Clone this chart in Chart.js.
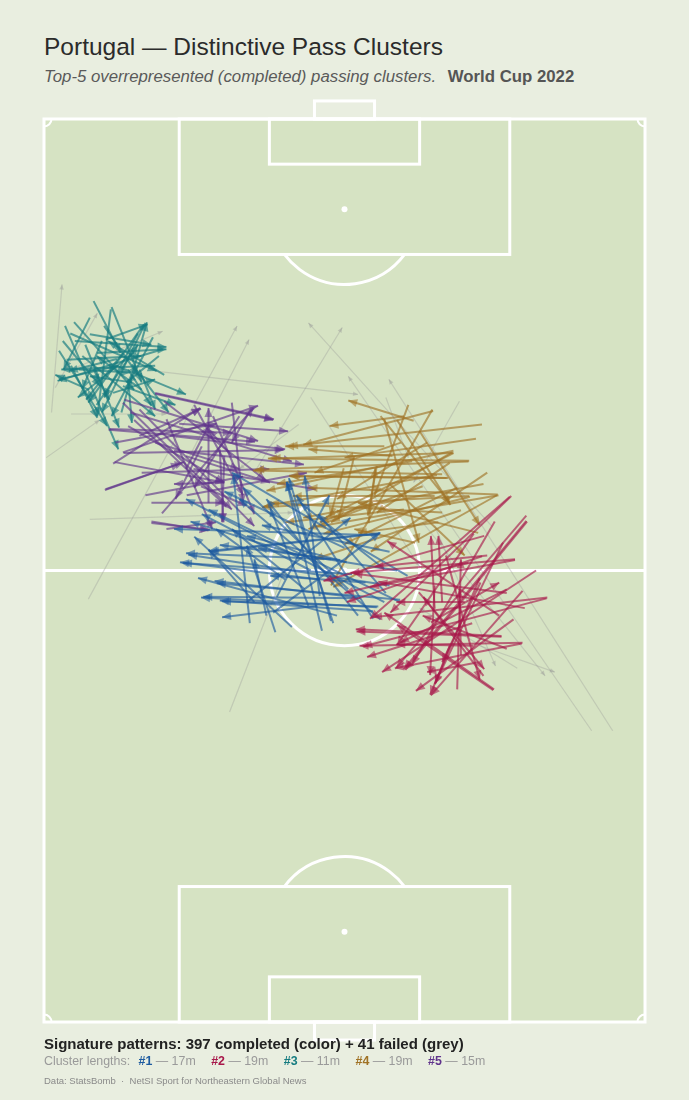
<!DOCTYPE html>
<html>
<head>
<meta charset="UTF-8">
<title>Portugal — Distinctive Pass Clusters</title>
<script src="https://cdn.jsdelivr.net/npm/chart.js@4.4.1/dist/chart.umd.min.js"></script>
<style>
    body { margin: 0; background: #e9eee0; font-family: "Liberation Sans", Arial, sans-serif; }
    #wrap { position: relative; width: 689px; height: 1100px; overflow: hidden; }
    #title { position: absolute; left: 44px; top: 33px; font-size: 24.5px; line-height: 28px; color: #2b2b2b; }
    #sub { position: absolute; left: 44px; top: 67px; font-size: 16.8px; line-height: 20px; color: #5a5a5a; white-space: nowrap; }
    #sub i { margin-right: 7px; }
    #sub b { color: #555; }
    #box { position: absolute; left: 0; top: 90px; width: 689px; height: 960px; }
    #foot1 { position: absolute; left: 44px; top: 1035px; font-size: 15px; line-height: 18px; font-weight: bold; color: #222; white-space: nowrap; }
    #foot2 { position: absolute; left: 44px; top: 1053px; font-size: 12.4px; line-height: 16px; color: #9a9a9a; white-space: nowrap; }
    #foot2 b { margin-left: 5px; }
    #foot2 b.g { margin-left: 12px; }
    #foot3 { position: absolute; left: 44px; top: 1075px; font-size: 9.5px; line-height: 12px; color: #8a8a8a; white-space: nowrap; }
</style>
</head>
<body>
<div id="wrap">
    <div id="title">Portugal — Distinctive Pass Clusters</div>
    <div id="sub"><i>Top-5 overrepresented (completed) passing clusters.</i> <b>World Cup 2022</b></div>
    <div id="box"><canvas id="pitch"></canvas></div>
    <div id="foot1">Signature patterns: 397 completed (color) + 41 failed (grey)</div>
    <div id="foot2">Cluster lengths: <b style="color:#1d5ba0">#1</b> — 17m <b class="g" style="color:#a8174a">#2</b> — 19m <b class="g" style="color:#167c80">#3</b> — 11m <b class="g" style="color:#a07225">#4</b> — 19m <b class="g" style="color:#60338c">#5</b> — 15m</div>
    <div id="foot3">Data: StatsBomb &nbsp;·&nbsp; NetSI Sport for Northeastern Global News</div>
</div>

<script>
    // passes as [x start, y start, x end, y end] in pitch units (80 wide, 120 long, attacking upwards)
    var cluster1 = [
        [44.3, 64.7, 17.3, 65.5], [38.2, 61.5, 18.9, 62.3], [36.7, 58.8, 18.1, 61.1], [44.8, 65.0, 21.9, 62.6],
        [41.8, 56.4, 22.7, 58.6], [44.3, 55.1, 20.9, 56.4], [43.8, 54.6, 23.4, 56.0], [36.4, 55.3, 23.7, 53.8],
        [38.2, 53.3, 32.6, 72.3], [30.8, 51.8, 27.0, 63.3], [45.3, 55.8, 18.9, 69.5], [47.4, 55.8, 21.9, 68.1],
        [48.4, 59.3, 25.0, 73.0], [44.8, 53.5, 26.0, 69.5], [40.3, 61.1, 27.0, 64.6], [27.0, 55.8, 40.8, 67.0],
        [34.7, 57.5, 25.0, 65.5], [35.2, 55.3, 30.1, 68.4], [28.0, 55.8, 21.9, 62.8], [41.8, 54.0, 29.6, 69.5],
        [32.1, 58.8, 22.9, 65.5], [42.8, 58.4, 30.1, 59.3], [45.3, 60.2, 34.1, 69.0], [29.6, 54.0, 28.0, 61.5],
        [36.7, 56.6, 34.7, 72.6], [40.0, 63.0, 24.0, 70.5], [46.0, 62.5, 29.0, 66.0], [44.7, 64.9, 22.1, 62.5],
        [42.1, 56.3, 21.2, 56.5], [39.4, 61.4, 23.4, 63.4], [47.4, 56.1, 23.0, 58.3], [43.8, 53.6, 33.6, 70.0],
        [44.5, 55.2, 23.7, 55.9], [37.0, 52.0, 32.3, 71.8], [46.0, 58.0, 19.2, 62.1], [27.4, 53.0, 25.2, 72.7],
        [38.5, 53.0, 32.3, 71.8], [30.5, 54.4, 44.7, 65.0], [41.0, 59.5, 18.5, 61.0], [35.5, 60.0, 21.0, 67.5],
        [33.0, 52.5, 20.0, 64.5], [40.5, 57.5, 26.5, 71.0], [47.0, 60.0, 28.5, 63.0], [31.0, 56.5, 38.0, 70.0],
        [39.0, 54.0, 20.5, 59.0], [45.5, 57.0, 36.5, 67.5], [34.0, 62.0, 19.5, 66.5]
    ];
    var cluster2 = [
        [62.2, 69.9, 46.1, 54.4], [64.2, 67.3, 46.9, 47.1], [64.2, 66.6, 47.9, 46.9], [62.7, 61.5, 40.8, 59.7],
        [63.7, 50.4, 42.0, 50.0], [60.9, 51.3, 41.5, 52.2], [67.0, 56.4, 43.8, 53.8], [59.9, 44.2, 45.3, 54.4],
        [63.7, 57.3, 51.5, 43.4], [61.1, 63.7, 52.0, 44.9], [52.0, 54.9, 51.5, 64.6], [53.0, 55.8, 52.5, 64.6],
        [58.6, 64.6, 37.2, 58.6], [58.3, 61.9, 40.3, 55.8], [55.5, 48.7, 55.3, 57.5], [60.6, 54.0, 45.7, 63.9],
        [61.6, 49.6, 50.4, 54.0], [57.1, 50.0, 46.9, 50.2], [61.6, 57.5, 47.4, 50.4], [57.8, 47.8, 51.0, 46.5],
        [58.1, 58.4, 53.0, 47.8], [55.0, 44.2, 55.5, 61.5], [49.9, 57.1, 58.6, 46.9], [51.5, 53.1, 60.6, 58.4],
        [56.0, 55.8, 46.9, 55.8], [62.0, 69.8, 43.4, 53.6], [66.9, 56.3, 42.5, 49.9], [63.6, 50.3, 46.7, 47.0],
        [59.8, 44.1, 47.0, 52.8], [60.9, 51.2, 41.6, 51.9], [61.6, 57.0, 41.2, 59.6], [57.2, 64.9, 47.0, 50.1],
        [64.3, 66.5, 48.1, 46.8], [62.7, 61.4, 43.4, 57.8], [58.0, 59.0, 51.4, 43.5], [54.0, 50.0, 52.1, 45.0],
        [52.0, 58.0, 51.4, 46.1], [59.0, 62.0, 44.0, 60.5], [60.0, 66.5, 49.0, 47.5], [65.5, 60.0, 45.0, 46.5],
        [56.5, 61.0, 40.0, 57.0], [62.5, 53.5, 49.5, 44.0], [58.5, 46.0, 50.5, 56.5], [53.5, 62.0, 58.0, 45.5],
        [64.0, 55.0, 44.5, 58.5], [57.0, 53.0, 43.0, 48.5]
    ];
    var cluster3 = [
        [6.6, 95.8, 10.2, 88.9], [8.9, 94.7, 7.1, 80.5], [2.8, 92.5, 9.9, 76.1], [2.0, 89.2, 8.4, 79.2],
        [15.8, 89.4, 1.8, 85.2], [14.8, 87.2, 2.3, 86.7], [6.1, 91.4, 14.3, 90.0], [4.1, 90.5, 16.3, 89.7],
        [10.3, 81.0, 13.7, 93.0], [9.7, 87.2, 18.9, 83.4], [11.7, 87.4, 16.6, 81.0], [5.1, 88.5, 14.8, 80.5],
        [13.3, 92.7, 5.9, 82.3], [7.1, 88.9, 16.3, 89.4], [13.5, 92.9, 7.7, 81.0], [3.6, 87.2, 7.1, 80.3],
        [11.2, 85.4, 11.7, 79.6], [12.7, 86.7, 14.8, 81.4], [8.2, 90.7, 13.8, 92.7], [6.1, 93.6, 2.6, 86.7],
        [10.5, 88.9, 5.6, 82.7], [15.3, 88.5, 11.0, 85.0], [4.6, 86.7, 11.5, 86.3], [2.0, 85.4, 9.9, 87.2],
        [11.7, 85.0, 6.1, 85.8], [9.2, 83.6, 14.8, 85.4], [6.6, 86.7, 8.7, 82.7], [11.2, 86.7, 14.3, 81.9],
        [7.7, 90.5, 5.1, 84.1], [9.7, 88.1, 3.3, 86.5], [4.0, 93.0, 12.0, 84.0], [12.5, 91.5, 8.0, 83.0],
        [3.0, 88.0, 13.0, 88.5], [14.5, 91.0, 9.0, 80.5], [6.0, 84.0, 1.5, 86.0], [8.0, 92.5, 12.5, 86.0],
        [10.5, 84.5, 17.5, 82.0], [5.5, 90.0, 10.0, 79.0], [13.0, 84.0, 7.0, 88.5], [2.5, 90.5, 7.5, 84.5],
        [9.0, 95.0, 13.0, 85.0], [3.5, 91.5, 15.0, 86.5], [12.0, 89.0, 4.5, 83.0], [16.0, 86.0, 8.5, 90.5],
        [7.0, 82.0, 12.5, 90.0]
    ];
    var cluster4 = [
        [49.2, 79.9, 40.5, 82.6], [47.9, 80.5, 38.0, 79.2], [58.3, 79.4, 32.6, 76.5], [45.3, 76.5, 32.1, 76.5],
        [56.6, 74.6, 29.8, 74.9], [53.0, 72.8, 27.8, 73.3], [53.8, 72.3, 32.6, 72.6], [60.4, 70.1, 35.2, 71.0],
        [54.5, 75.9, 29.6, 70.6], [56.6, 69.9, 29.0, 68.4], [51.7, 81.4, 38.2, 58.0], [54.3, 75.7, 38.2, 66.4],
        [44.8, 80.5, 54.0, 69.0], [57.8, 65.0, 41.8, 69.0], [44.3, 73.9, 43.1, 67.3], [41.3, 75.2, 39.2, 66.8],
        [53.0, 67.7, 30.1, 69.0], [47.9, 68.1, 32.1, 66.4], [50.4, 71.2, 35.2, 65.5], [46.4, 75.2, 35.2, 76.1],
        [43.8, 69.0, 36.7, 66.4], [52.5, 66.4, 41.8, 65.0], [49.4, 63.7, 41.3, 65.5], [54.0, 74.3, 44.3, 67.7],
        [45.3, 80.1, 49.9, 63.7], [52.0, 69.9, 33.1, 69.9], [51.8, 81.2, 34.5, 76.7], [54.5, 75.6, 30.3, 74.9],
        [56.5, 74.5, 28.1, 73.4], [53.6, 72.3, 32.8, 72.5], [54.5, 75.6, 37.6, 67.1], [60.5, 70.0, 36.3, 65.8],
        [56.7, 69.8, 37.2, 64.9], [43.2, 66.3, 44.1, 73.6], [39.9, 73.6, 38.1, 67.2], [47.0, 80.0, 54.1, 68.7],
        [60.3, 70.0, 38.5, 57.8], [52.3, 72.7, 29.2, 68.5], [50.0, 78.5, 58.0, 66.0], [47.5, 77.0, 36.0, 73.0],
        [55.0, 71.0, 40.0, 63.5], [57.5, 77.5, 40.0, 75.0], [59.0, 73.0, 43.5, 62.5], [49.0, 74.5, 31.0, 71.5],
        [55.5, 68.0, 36.0, 61.5], [48.5, 82.0, 44.0, 70.0], [58.5, 71.5, 34.5, 67.0], [51.0, 77.0, 39.0, 69.5],
        [46.0, 71.5, 56.0, 62.0]
    ];
    var cluster5 = [
        [14.8, 83.6, 30.6, 80.1], [10.7, 82.7, 28.5, 77.2], [8.7, 78.8, 25.0, 78.3], [10.5, 75.7, 28.5, 81.9],
        [8.2, 70.8, 18.6, 74.4], [9.4, 74.4, 24.0, 71.7], [14.3, 69.0, 24.0, 69.0], [14.3, 66.5, 21.9, 65.3],
        [25.0, 82.3, 26.5, 69.0], [21.9, 69.0, 21.9, 81.6], [16.8, 77.9, 32.1, 76.1], [24.0, 75.2, 23.7, 66.4],
        [19.9, 73.5, 36.2, 70.8], [10.5, 82.3, 25.0, 68.1], [12.7, 81.4, 28.0, 65.9], [16.3, 80.1, 22.4, 65.5],
        [18.9, 75.2, 30.1, 71.7], [27.5, 81.4, 25.0, 77.0], [12.7, 77.9, 20.9, 81.5], [17.3, 75.9, 34.6, 74.1],
        [16.3, 65.5, 22.9, 66.4], [24.0, 71.7, 17.3, 71.5], [25.0, 75.2, 21.9, 78.8], [18.9, 73.5, 21.9, 79.2],
        [14.8, 77.0, 26.0, 73.5], [11.2, 79.2, 24.0, 71.7], [20.9, 71.2, 27.0, 68.6], [23.4, 76.1, 23.9, 66.4],
        [14.8, 83.5, 30.5, 80.0], [8.6, 78.7, 28.1, 77.1], [10.6, 75.6, 31.9, 76.0], [9.2, 74.2, 20.8, 81.6],
        [8.1, 70.7, 18.1, 74.2], [15.7, 67.6, 27.9, 81.6], [14.3, 66.3, 22.1, 65.4], [12.0, 80.0, 24.3, 68.5],
        [20.0, 82.0, 26.5, 70.0], [13.0, 73.0, 30.0, 73.5], [22.5, 80.5, 28.0, 67.5], [11.5, 81.0, 33.0, 74.5],
        [16.0, 82.5, 29.5, 72.0], [9.5, 77.0, 23.0, 79.5], [19.0, 70.0, 35.0, 73.0], [21.0, 76.5, 17.5, 69.5],
        [26.0, 80.5, 20.0, 71.0], [13.5, 70.0, 26.5, 72.5], [18.0, 79.5, 32.5, 78.5]
    ];
    var failed = [
        [1.0, 81.0, 2.4, 98.0], [3.6, 86.7, 15.8, 91.8], [1.5, 84.3, 7.1, 94.2], [14.8, 86.5, 41.8, 83.4],
        [3.6, 80.8, 16.3, 80.8], [5.9, 56.2, 25.7, 92.5], [24.7, 41.2, 32.0, 60.0], [19.4, 75.2, 27.3, 90.7],
        [28.0, 73.0, 39.7, 92.3], [59.6, 65.9, 35.2, 92.9], [72.9, 38.7, 40.5, 85.8], [75.7, 38.7, 45.9, 85.4],
        [55.3, 82.5, 49.2, 71.7], [6.1, 66.8, 33.1, 67.7], [33.9, 79.4, 26.0, 73.5], [50.4, 66.4, 66.7, 46.0],
        [52.0, 65.9, 60.1, 47.3], [0.3, 75.0, 7.4, 80.0], [45.5, 83.0, 48.5, 75.0], [58.0, 50.0, 68.0, 46.5],
        [63.0, 47.0, 50.0, 55.0], [35.5, 83.0, 50.0, 60.5]
    ];

    var clusterColors = ['#1d5ba0', '#a8174a', '#167c80', '#a07225', '#60338c'];

    function hexA(hex, a) {
        var n = parseInt(hex.slice(1), 16);
        return 'rgba(' + (n >> 16) + ',' + ((n >> 8) & 255) + ',' + (n & 255) + ',' + a + ')';
    }

    function passSets(list, color, headColor, width, head) {
        return list.map(function (p) {
            return {
                data: [{ x: p[0], y: p[1] }, { x: p[2], y: p[3] }],
                showLine: true,
                borderColor: color,
                borderWidth: width,
                pointRadius: 0,
                head: head,
                headColor: headColor
            };
        });
    }

    // first dataset is drawn on top, so the top layer goes first
    var datasets = [].concat(
        passSets(cluster2, hexA(clusterColors[1], 0.64), hexA(clusterColors[1], 0.55), 2, 9),
        passSets(cluster1, hexA(clusterColors[0], 0.64), hexA(clusterColors[0], 0.55), 2, 9),
        passSets(cluster4, hexA(clusterColors[3], 0.64), hexA(clusterColors[3], 0.55), 2, 9),
        passSets(cluster5, hexA(clusterColors[4], 0.64), hexA(clusterColors[4], 0.55), 2, 9),
        passSets(cluster3, hexA(clusterColors[2], 0.68), hexA(clusterColors[2], 0.6), 2, 9),
        passSets(failed, 'rgba(150,150,150,0.33)', 'rgba(150,150,150,0.4)', 1.2, 5)
    );

    var pitchPlugin = {
        id: 'pitch',
        beforeDatasetsDraw: function (chart) {
            var ctx = chart.ctx, sx = chart.scales.x, sy = chart.scales.y;
            var X = function (v) { return sx.getPixelForValue(v); };
            var Y = function (v) { return sy.getPixelForValue(v); };
            var k = Math.abs(X(1) - X(0));
            function rect(x1, y1, x2, y2) { ctx.strokeRect(X(x1), Y(y2), X(x2) - X(x1), Y(y1) - Y(y2)); }
            function arc(cx, cy, r, a0, a1) { ctx.beginPath(); ctx.arc(X(cx), Y(cy), r * k, a0, a1); ctx.stroke(); }
            function spot(cx, cy) { ctx.beginPath(); ctx.arc(X(cx), Y(cy), 3, 0, Math.PI * 2); ctx.fill(); }
            ctx.save();
            ctx.fillStyle = '#d6e3c3';
            ctx.fillRect(X(0), Y(120), X(80) - X(0), Y(0) - Y(120));
            ctx.strokeStyle = '#ffffff';
            ctx.fillStyle = '#ffffff';
            ctx.lineWidth = 3;
            rect(0, 0, 80, 120);
            ctx.beginPath(); ctx.moveTo(X(0), Y(60)); ctx.lineTo(X(80), Y(60)); ctx.stroke();
            arc(40, 60, 10, 0, Math.PI * 2);
            spot(40, 60);
            // top end
            rect(18, 102, 62, 120);
            rect(30, 114, 50, 120);
            rect(36, 120, 44, 122.4);
            spot(40, 108);
            var a = Math.asin(0.6);
            arc(40, 108, 10, a, Math.PI - a);
            // bottom end
            rect(18, 0, 62, 18);
            rect(30, 0, 50, 6);
            rect(36, -2.4, 44, 0);
            spot(40, 12);
            arc(40, 12, 10, Math.PI + a, 2 * Math.PI - a);
            // corners
            ctx.lineWidth = 2;
            arc(0, 120, 1, 0, Math.PI / 2);
            arc(80, 120, 1, Math.PI / 2, Math.PI);
            arc(0, 0, 1, 1.5 * Math.PI, 2 * Math.PI);
            arc(80, 0, 1, Math.PI, 1.5 * Math.PI);
            ctx.restore();
        },
        afterDatasetDraw: function (chart, args) {
            var ds = chart.data.datasets[args.index];
            var pts = args.meta.data;
            if (!ds.head || pts.length < 2) return;
            var ctx = chart.ctx;
            var x1 = pts[0].x, y1 = pts[0].y, x2 = pts[1].x, y2 = pts[1].y;
            var ang = Math.atan2(y2 - y1, x2 - x1);
            var L = ds.head, W = ds.head * 0.45;
            ctx.save();
            ctx.translate(x2, y2);
            ctx.rotate(ang);
            ctx.fillStyle = ds.headColor;
            ctx.beginPath();
            ctx.moveTo(0, 0);
            ctx.lineTo(-L, -W);
            ctx.lineTo(-L, W);
            ctx.closePath();
            ctx.fill();
            ctx.restore();
        }
    };

    new Chart(document.getElementById('pitch'), {
        type: 'scatter',
        data: { datasets: datasets },
        options: {
            responsive: true,
            maintainAspectRatio: false,
            animation: false,
            events: [],
            layout: { padding: { left: 44, right: 44, top: 29, bottom: 28 } },
            scales: {
                x: { type: 'linear', min: 0, max: 80, display: false },
                y: { type: 'linear', min: 0, max: 120, display: false }
            },
            plugins: { legend: { display: false }, tooltip: { enabled: false } }
        },
        plugins: [pitchPlugin]
    });
</script>
</body>
</html>
